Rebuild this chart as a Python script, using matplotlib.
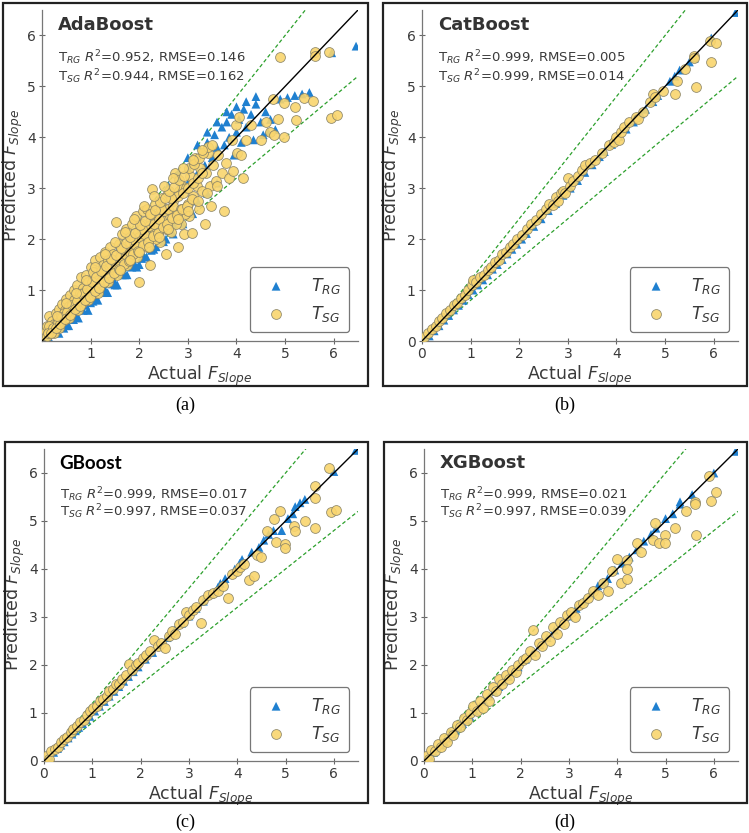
import matplotlib
matplotlib.use("Agg")
import matplotlib.pyplot as plt
from matplotlib.patches import Rectangle

# ---- data (actual, predicted) ----
ada_trg_x = [0.1, 0.2, 0.3, 0.4, 0.5, 0.6, 0.7, 0.8, 0.9, 1.0, 1.1, 1.2, 1.3, 1.4, 1.5, 1.6, 1.7, 1.8, 1.9, 2.0,
             2.1, 2.2, 2.3, 2.4, 2.5, 2.6, 2.7, 2.8, 2.9, 3.0, 3.1, 3.0, 3.1, 3.2, 3.3, 3.35, 3.4, 3.5, 3.55, 3.6,
             3.7, 3.75, 3.8, 3.85, 3.9, 3.95, 4.0, 4.05, 4.1, 4.15, 4.2, 4.3, 4.35, 4.4, 4.5, 4.55, 4.6, 4.65, 4.7, 4.8,
             4.9, 5.05, 5.2, 5.35, 5.5, 5.96, 6.46, 3.2, 3.4, 3.6, 2.7, 0.15, 0.35, 0.55, 0.75, 0.95, 1.15, 1.35,
             1.55, 1.75, 1.95, 2.15, 2.35, 2.55, 0.45, 0.65, 0.85, 1.05, 1.25, 1.45, 1.65, 1.85, 2.05, 2.25,
             2.6, 2.8, 3.0, 3.2, 3.4, 3.6, 3.8, 4.0, 4.2, 4.4, 1.0, 1.5, 2.0]
ada_trg_y = [0.1, 0.35, 0.2, 0.6, 0.3, 0.85, 0.5, 1.05, 0.7, 1.2, 0.85, 1.45, 1.0, 1.65, 1.15, 1.85, 1.3, 2.05, 1.5, 2.3,
             1.65, 2.5, 1.8, 2.7, 1.95, 2.85, 2.1, 3.2, 2.3, 3.4, 2.5, 3.1, 3.5, 3.3, 3.7, 3.45, 3.9, 3.6, 4.05, 3.8,
             4.2, 3.85, 4.3, 4.0, 4.45, 3.65, 4.1, 4.35, 3.9, 4.55, 4.2, 4.45, 3.95, 4.65, 4.3, 4.05, 4.5, 4.1, 4.35, 4.15,
             4.75, 4.78, 4.82, 4.85, 4.88, 5.66, 5.79, 2.75, 2.9, 3.1, 2.3, 0.05, 0.15, 0.3, 0.45, 0.6, 0.8, 0.95,
             1.1, 1.3, 1.45, 1.65, 1.85, 2.0, 0.25, 0.42, 0.6, 0.78, 0.95, 1.12, 1.3, 1.45, 1.62, 1.78,
             3.05, 3.3, 3.6, 3.85, 4.1, 4.3, 4.5, 4.6, 4.7, 4.8, 0.75, 1.1, 1.5]

ada_tsg_x = [0.05, 0.08, 0.1, 0.12, 0.15, 0.18, 0.2, 0.22, 0.25, 0.28, 0.3, 0.32, 0.35, 0.38, 0.4, 0.42, 0.45, 0.48,
             0.5, 0.52, 0.55, 0.58, 0.6, 0.62, 0.65, 0.68, 0.7, 0.72, 0.75, 0.78, 0.8, 0.82, 0.85, 0.88, 0.9, 0.92,
             0.95, 0.98, 1.0, 1.02, 1.05, 1.08, 1.1, 1.12, 1.15, 1.18, 1.2, 1.22, 1.25, 1.28, 1.3, 1.33, 1.35, 1.38,
             1.4, 1.43, 1.46, 1.5, 1.52, 1.55, 1.58, 1.6, 1.63, 1.65, 1.68, 1.7, 1.73, 1.76, 1.8, 1.85, 1.88, 1.9,
             1.93, 1.95, 1.98, 2.0, 2.02, 2.05, 2.08, 2.1, 2.13, 2.16, 2.2, 2.22, 2.25, 2.27, 2.3, 2.33, 2.36, 2.4,
             2.43, 2.46, 2.5, 2.53, 2.56, 2.6, 2.63, 2.66, 2.7, 2.73, 2.76, 2.8, 2.82, 2.85, 2.88, 2.9, 2.93, 2.96,
             3.0, 3.02, 3.05, 3.08, 3.1, 3.15, 3.18, 3.22, 3.25, 3.3, 3.35, 3.38, 3.42, 3.45, 3.48, 3.52, 3.58, 3.62,
             3.7, 3.75, 3.78, 3.85, 3.9, 3.93, 4.0, 4.02, 4.05, 4.1, 4.14, 4.2, 4.3, 4.5, 4.6, 4.7, 4.75, 4.78,
             4.85, 4.9, 4.98, 4.98, 5.2, 5.23, 5.38, 5.58, 5.62, 5.62, 5.9, 5.95, 6.07,
             0.1, 0.2, 0.3, 0.4, 0.5, 0.6, 0.7, 0.8, 0.9, 1.0, 1.1, 1.2, 1.3, 1.4, 1.5, 1.6, 1.7, 1.8, 1.9, 2.0,
             2.1, 2.2, 2.3, 2.4, 2.5, 2.6, 2.7, 2.8, 2.9, 3.0, 3.1, 3.2, 3.3, 0.15, 0.25, 0.35, 0.45, 0.55, 0.65, 0.75,
             0.85, 0.95, 1.05, 1.15, 1.25, 1.35, 1.45, 1.55, 1.65, 1.75, 1.85, 1.95, 2.05, 2.15, 2.25, 2.35, 2.45, 2.55,
             2.65, 2.75, 2.85, 2.95,
             0.12, 0.22, 0.32, 0.42, 0.52, 0.62, 0.72, 0.82, 0.92, 1.02, 1.12, 1.22, 1.32, 1.42, 1.52, 1.62, 1.72,
             1.82, 1.92, 2.02, 2.12, 2.22, 2.32, 2.42, 2.52, 2.62, 2.72, 2.82, 2.92, 3.02, 3.12, 3.22, 3.32, 3.42,
             0.18, 0.28, 0.38, 0.48, 0.58, 0.68, 0.78, 0.88, 0.98, 1.08, 1.18, 1.28, 1.38, 1.48, 1.58, 1.68, 1.78,
             1.88, 1.98, 2.08, 2.18, 2.28, 2.38, 2.48, 2.58, 2.68, 2.78, 2.88, 2.98, 3.08,
             1.5, 1.6, 1.7, 1.8, 1.9, 2.0, 2.1, 2.2, 2.3, 2.4, 2.5, 2.6, 2.7, 2.8, 2.9, 3.0, 3.1, 3.2, 3.3, 3.4,
             3.5, 3.6, 0.3, 0.5, 0.7, 0.9, 1.1, 1.3]
ada_tsg_y = [0.12, 0.2, 0.3, 0.15, 0.5, 0.25, 0.4, 0.18, 0.33, 0.55, 0.28, 0.45, 0.62, 0.35, 0.5, 0.72, 0.42, 0.6,
             0.82, 0.5, 0.68, 0.9, 0.55, 0.75, 1.0, 0.62, 0.8, 1.1, 0.7, 0.95, 1.25, 0.75, 1.05, 0.85, 1.3, 0.95,
             1.15, 0.88, 1.45, 1.05, 1.25, 0.95, 1.6, 1.15, 1.38, 1.05, 1.65, 1.3, 1.5, 1.15, 1.75, 1.4, 1.6, 1.25,
             1.85, 1.5, 1.7, 1.35, 2.33, 1.6, 1.9, 1.45, 1.75, 2.1, 1.55, 1.85, 2.2, 1.6, 1.95, 2.3, 1.75, 2.05,
             2.45, 1.8, 2.15, 1.15, 1.9, 2.3, 2.55, 1.95, 2.2, 2.6, 2.0, 1.5, 2.4, 2.99, 2.1, 2.7, 2.3, 2.5,
             1.95, 2.8, 2.35, 2.6, 1.7, 2.9, 2.45, 2.15, 2.75, 3.3, 2.5, 1.85, 2.95, 2.3, 3.05, 2.6, 2.1, 3.0,
             2.7, 2.45, 3.25, 2.12, 2.85, 3.6, 3.05, 2.6, 3.4, 2.95, 2.3, 3.3, 3.7, 3.05, 2.66, 3.45, 3.15, 3.65,
             3.3, 2.56, 3.5, 3.2, 3.95, 3.33, 4.25, 3.7, 4.4, 3.65, 3.2, 3.95, 4.25, 3.95, 4.3, 4.1, 4.75, 4.05,
             4.35, 5.57, 4.0, 4.68, 4.6, 4.34, 4.78, 4.72, 5.67, 5.6, 5.67, 4.37, 4.43,
             0.1, 0.22, 0.35, 0.4, 0.55, 0.66, 0.7, 0.88, 0.9, 1.0, 1.2, 1.15, 1.3, 1.45, 1.5, 1.65, 1.7, 1.75, 1.9, 2.05,
             2.1, 2.25, 2.3, 2.4, 2.55, 2.6, 2.65, 2.85, 2.9, 3.0, 3.1, 3.2, 3.3, 0.3, 0.15, 0.25, 0.55, 0.45, 0.8, 0.6,
             0.95, 0.8, 1.35, 0.95, 1.4, 1.15, 1.6, 1.3, 1.8, 1.5, 2.0, 1.65, 2.2, 1.85, 2.5, 2.0, 2.6, 2.2,
             2.8, 2.3, 2.6, 2.5,
             0.15, 0.26, 0.35, 0.48, 0.57, 0.71, 0.79, 0.93, 1.02, 1.15, 1.25, 1.38, 1.47, 1.61, 1.69, 1.83, 1.92,
             2.05, 2.13, 2.27, 2.36, 2.49, 2.58, 2.72, 2.8, 2.95, 3.03, 3.17, 3.25, 3.39, 3.47, 3.6, 3.7, 3.8,
             0.15, 0.26, 0.33, 0.44, 0.51, 0.62, 0.69, 0.8, 0.87, 0.98, 1.05, 1.16, 1.23, 1.34, 1.41, 1.52, 1.58,
             1.7, 1.76, 1.88, 1.94, 2.06, 2.12, 2.24, 2.3, 2.42, 2.47, 2.6, 2.66, 2.78,
             1.95, 1.4, 2.15, 1.6, 2.4, 1.75, 2.65, 1.85, 2.85, 2.05, 3.05, 2.2, 3.2, 2.4, 3.4, 2.55, 3.55, 2.75, 3.75, 2.9,
             3.85, 3.05, 0.5, 0.75, 0.95, 1.2, 1.45, 1.7]

cat_trg_x = [0.05, 0.15, 0.25, 0.35, 0.45, 0.55, 0.65, 0.75, 0.85, 0.95, 1.05, 1.15, 1.25, 1.35, 1.45, 1.55, 1.65,
             1.75, 1.85, 1.95, 2.05, 2.15, 2.3, 2.45, 2.6, 2.75, 2.9, 3.05, 3.2, 3.35, 3.5, 3.65, 3.75, 3.9, 4.05,
             4.2, 4.35, 4.5, 4.6, 4.75, 4.85, 5.1, 5.2, 5.3, 5.5, 5.6, 5.95, 6.45]
cat_trg_y = [0.02, 0.1, 0.2, 0.3, 0.41, 0.5, 0.61, 0.7, 0.8, 0.91, 1.0, 1.1, 1.2, 1.3, 1.41, 1.5, 1.6,
             1.71, 1.8, 1.9, 2.0, 2.11, 2.25, 2.4, 2.56, 2.7, 2.86, 3.0, 3.15, 3.31, 3.46, 3.62, 3.72, 3.86, 4.02,
             4.16, 4.3, 4.46, 4.55, 4.7, 4.82, 5.1, 5.2, 5.32, 5.48, 5.55, 5.95, 6.45]
cat_tsg_x = [0.05, 0.12, 0.2, 0.28, 0.35, 0.42, 0.5, 0.58, 0.65, 0.72, 0.8, 0.88, 0.95, 1.03, 1.05, 1.12, 1.2,
             1.28, 1.35, 1.42, 1.5, 1.58, 1.65, 1.72, 1.8, 1.88, 1.95, 2.05, 2.15, 2.25, 2.35, 2.45, 2.55, 2.62,
             2.7, 2.75, 2.8, 2.85, 2.9, 2.95, 3.0, 3.05, 3.1, 3.2, 3.3, 3.35, 3.45, 3.55, 3.7, 3.85, 3.95, 4.0,
             4.05, 4.1, 4.15, 4.25, 4.4, 4.45, 4.55, 4.7, 4.75, 4.8, 4.95, 5.2, 5.25, 5.4, 5.6, 5.6, 5.63, 5.93,
             5.95, 6.05]
cat_tsg_y = [0.08, 0.15, 0.24, 0.3, 0.4, 0.45, 0.55, 0.6, 0.7, 0.75, 0.84, 0.9, 1.0, 1.1, 1.2, 1.15, 1.25,
             1.3, 1.4, 1.45, 1.55, 1.6, 1.7, 1.75, 1.85, 1.9, 2.0, 2.08, 2.2, 2.3, 2.38, 2.5, 2.6, 2.7,
             2.68, 2.82, 2.75, 2.9, 2.95, 2.9, 3.2, 3.05, 3.15, 3.25, 3.35, 3.45, 3.5, 3.55, 3.7, 3.85, 3.9, 4.0,
             3.95, 4.1, 4.2, 4.3, 4.4, 4.35, 4.5, 4.7, 4.85, 4.8, 4.9, 4.85, 5.1, 5.35, 5.6, 5.55, 4.98, 5.89,
             5.48, 5.85]

gb_trg_x = [0.05, 0.12, 0.2, 0.28, 0.35, 0.42, 0.5, 0.58, 0.65, 0.72, 0.8, 0.88, 0.95, 1.05, 1.15, 1.25, 1.35,
            1.45, 1.55, 1.65, 1.75, 1.85, 1.95, 2.1, 2.25, 2.4, 2.55, 2.7, 2.85, 3.0, 3.15, 3.3, 3.45, 3.6, 3.65,
            3.75, 3.95, 4.05, 4.1, 4.3, 4.45, 4.55, 4.65, 4.75, 4.92, 5.05, 5.15, 5.2, 5.3, 5.4, 6.0, 6.45]
gb_trg_y = [0.03, 0.1, 0.18, 0.26, 0.33, 0.4, 0.48, 0.56, 0.63, 0.7, 0.78, 0.86, 0.93, 1.04, 1.14, 1.24, 1.35,
            1.45, 1.55, 1.66, 1.76, 1.86, 1.96, 2.12, 2.26, 2.42, 2.57, 2.73, 2.87, 3.02, 3.18, 3.33, 3.48, 3.62, 3.7,
            3.8, 4.0, 4.12, 4.2, 4.35, 4.45, 4.6, 4.72, 4.8, 4.8, 5.05, 5.15, 5.3, 5.38, 5.45, 6.03, 6.47]
gb_tsg_x = [0.05, 0.1, 0.15, 0.22, 0.28, 0.35, 0.42, 0.48, 0.55, 0.6, 0.68, 0.75, 0.82, 0.9, 0.95, 1.02, 1.1,
            1.15, 1.22, 1.3, 1.35, 1.42, 1.5, 1.55, 1.62, 1.7, 1.75, 1.82, 1.9, 1.95, 2.05, 2.12, 2.2, 2.27, 2.35,
            2.42, 2.5, 2.58, 2.65, 2.72, 2.8, 2.88, 2.93, 3.0, 3.08, 3.15, 3.24, 3.3, 3.4, 3.5, 3.6, 3.7, 3.8,
            3.9, 4.0, 4.05, 4.15, 4.25, 4.34, 4.4, 4.5, 4.62, 4.76, 4.8, 4.88, 4.98, 4.98, 5.17, 5.2, 5.4, 5.6,
            5.6, 5.6, 5.9, 5.94, 6.05]
gb_tsg_y = [0.1, 0.05, 0.2, 0.25, 0.3, 0.4, 0.45, 0.5, 0.6, 0.66, 0.72, 0.82, 0.85, 0.95, 1.05, 1.1, 1.15,
            1.25, 1.3, 1.35, 1.45, 1.5, 1.6, 1.6, 1.7, 1.8, 2.03, 1.9, 2.0, 2.05, 2.15, 2.2, 2.3, 2.52, 2.4,
            2.45, 2.35, 2.6, 2.7, 2.65, 2.85, 2.9, 3.1, 3.05, 3.15, 3.2, 2.87, 3.35, 3.45, 3.5, 3.55, 3.65, 3.4,
            3.9, 3.95, 4.05, 4.1, 3.78, 3.86, 4.3, 4.25, 4.8, 5.05, 4.57, 5.2, 4.53, 4.43, 4.89, 4.8, 4.99, 5.72,
            5.47, 4.85, 6.1, 5.18, 5.22]

xg_trg_x = [0.05, 0.12, 0.2, 0.28, 0.35, 0.42, 0.5, 0.58, 0.65, 0.72, 0.8, 0.88, 0.95, 1.05, 1.15, 1.25, 1.35,
            1.45, 1.55, 1.65, 1.75, 1.85, 1.95, 2.1, 2.25, 2.4, 2.55, 2.7, 2.85, 3.0, 3.15, 3.3, 3.45, 3.6, 3.7,
            3.8, 3.95, 4.1, 4.25, 4.4, 4.55, 4.7, 4.8, 5.0, 5.15, 5.3, 5.3, 5.55, 6.0, 6.45]
xg_trg_y = [0.03, 0.1, 0.18, 0.26, 0.33, 0.4, 0.48, 0.56, 0.63, 0.7, 0.78, 0.86, 0.93, 1.04, 1.14, 1.24, 1.35,
            1.45, 1.55, 1.66, 1.76, 1.86, 1.96, 2.12, 2.26, 2.42, 2.57, 2.73, 2.87, 3.02, 3.18, 3.33, 3.48, 3.65, 3.72,
            3.8, 3.98, 4.12, 4.25, 4.4, 4.58, 4.72, 4.85, 5.05, 5.15, 5.35, 5.4, 5.55, 6.0, 6.45]
xg_tsg_x = [0.05, 0.1, 0.15, 0.22, 0.28, 0.35, 0.42, 0.48, 0.55, 0.6, 0.68, 0.75, 0.82, 0.9, 0.95, 1.02, 1.1,
            1.15, 1.22, 1.3, 1.35, 1.42, 1.5, 1.55, 1.62, 1.7, 1.75, 1.82, 1.9, 1.95, 2.05, 2.12, 2.2, 2.25, 2.3,
            2.38, 2.45, 2.52, 2.6, 2.68, 2.75, 2.82, 2.9, 2.95, 3.05, 3.12, 3.2, 3.3, 3.4, 3.5, 3.6, 3.7, 3.8,
            3.9, 4.0, 4.07, 4.2, 4.2, 4.2, 4.4, 4.5, 4.74, 4.78, 4.87, 4.98, 4.98, 5.2, 5.42, 5.6, 5.6, 5.63,
            5.9, 5.95, 6.04]
xg_tsg_y = [0.1, 0.05, 0.22, 0.2, 0.35, 0.3, 0.48, 0.4, 0.6, 0.55, 0.75, 0.7, 0.9, 0.85, 1.0, 1.15, 1.05,
            1.25, 1.1, 1.4, 1.25, 1.55, 1.45, 1.7, 1.6, 1.8, 1.7, 1.9, 1.85, 2.0, 2.1, 2.15, 2.3, 2.72, 2.2,
            2.45, 2.4, 2.6, 2.5, 2.8, 2.65, 2.9, 2.85, 3.05, 3.1, 3.0, 3.25, 3.3, 3.4, 3.55, 3.45, 3.7, 3.55,
            3.95, 4.2, 3.7, 4.18, 4.0, 3.8, 4.55, 4.35, 4.6, 4.95, 4.55, 4.7, 4.55, 4.85, 5.2, 5.4, 5.35, 4.7,
            5.93, 5.42, 5.6]

models = ["AdaBoost", "CatBoost", "GBoost", "XGBoost"]
stats = [("0.952", "0.146", "0.944", "0.162"),
         ("0.999", "0.005", "0.999", "0.014"),
         ("0.999", "0.017", "0.997", "0.037"),
         ("0.999", "0.021", "0.997", "0.039")]
panel_letters = ["(a)", "(b)", "(c)", "(d)"]

W, H = 749, 833
# axes boxes in pixels: left, top, right, bottom
axes_px = [(42, 10, 358, 341), (422, 10, 738, 341), (44, 449, 358, 761), (424, 449, 738, 761)]
frames_px = [(3, 3, 368, 386), (383, 3, 747, 386), (5, 442, 368, 803), (384, 442, 747, 803)]
letter_px = [(185, 405), (565, 405), (185, 822), (565, 822)]

data = [(ada_trg_x, ada_trg_y, ada_tsg_x, ada_tsg_y),
        (cat_trg_x, cat_trg_y, cat_tsg_x, cat_tsg_y),
        (gb_trg_x, gb_trg_y, gb_tsg_x, gb_tsg_y),
        (xg_trg_x, xg_trg_y, xg_tsg_x, xg_tsg_y)]

fig = plt.figure(figsize=(W / 100, H / 100), dpi=100)
text_col = "#3a3a3a"

for i in range(4):
    l, t, r, b = axes_px[i]
    ax = fig.add_axes([l / W, 1 - b / H, (r - l) / W, (b - t) / H])
    trg_x, trg_y, tsg_x, tsg_y = data[i]

    lim = [0, 6.5]
    ax.plot(lim, [0, 6.5 * 1.2], color="#2ca02c", ls=(0, (3, 2)), lw=0.9, zorder=1)
    ax.plot(lim, [0, 6.5 * 0.8], color="#2ca02c", ls=(0, (3, 2)), lw=0.9, zorder=1)
    ax.scatter(trg_x, trg_y, marker="^", s=40, color="#1f80d0", edgecolors="none",
               label="$T_{RG}$", zorder=2)
    ax.scatter(tsg_x, tsg_y, marker="o", s=50, facecolor="#f9d56e", edgecolors="#8a8468",
               linewidths=0.6, alpha=0.9, label="$T_{SG}$", zorder=3)
    ax.plot(lim, lim, color="black", lw=1.0, zorder=4)

    ax.set_xlim(0, 6.5)
    ax.set_ylim(0, 6.5)
    ticks = [1, 2, 3, 4, 5, 6] if i == 0 else [0, 1, 2, 3, 4, 5, 6]
    ax.set_xticks(ticks)
    ax.set_yticks(ticks)
    ax.tick_params(direction="inout", length=5, width=0.8, color="#666666",
                   labelsize=10, labelcolor=text_col, pad=2)
    for side in ["top", "right"]:
        ax.spines[side].set_visible(False)
    for side in ["left", "bottom"]:
        ax.spines[side].set_color("#777777")
        ax.spines[side].set_linewidth(0.9)

    ax.set_xlabel("Actual $F_{Slope}$", fontsize=12.5, color=text_col, labelpad=2)
    ax.set_ylabel("Predicted $F_{Slope}$", fontsize=12.5, color=text_col, labelpad=1)

    if models[i] == "GBoost":
        ax.text(0.05, 0.955, models[i], transform=ax.transAxes, fontsize=13.5, fontweight="bold",
                family="Lato", color="black", va="center")
    else:
        ax.text(0.05, 0.955, models[i], transform=ax.transAxes, fontsize=13, fontweight="bold",
                color="#333333", va="center")
    r2a, rma, r2b, rmb = stats[i]
    ax.text(0.05, 0.855, "T$_{RG}$ $R^2$=" + r2a + ", RMSE=" + rma, transform=ax.transAxes,
            fontsize=9.5, color=text_col, va="center")
    ax.text(0.05, 0.80, "T$_{SG}$ $R^2$=" + r2b + ", RMSE=" + rmb, transform=ax.transAxes,
            fontsize=9.5, color=text_col, va="center")

    leg = ax.legend(loc="lower right", fontsize=12.5, frameon=True, fancybox=True,
                    borderaxespad=0.5, handletextpad=1.0, borderpad=0.5, labelspacing=0.45)
    leg.get_frame().set_edgecolor("#555555")
    leg.get_frame().set_linewidth(0.9)
    for txt in leg.get_texts():
        txt.set_color(text_col)

    fl, ft, fr, fb = frames_px[i]
    fig.add_artist(Rectangle((fl / W, 1 - fb / H), (fr - fl) / W, (fb - ft) / H,
                             transform=fig.transFigure, fill=False, edgecolor="#222222", lw=1.6))
    lx, ly = letter_px[i]
    fig.text(lx / W, 1 - ly / H, panel_letters[i], ha="center", va="center",
             family="Liberation Serif", fontsize=13, color="black")

fig.savefig("out.png", dpi=100)
